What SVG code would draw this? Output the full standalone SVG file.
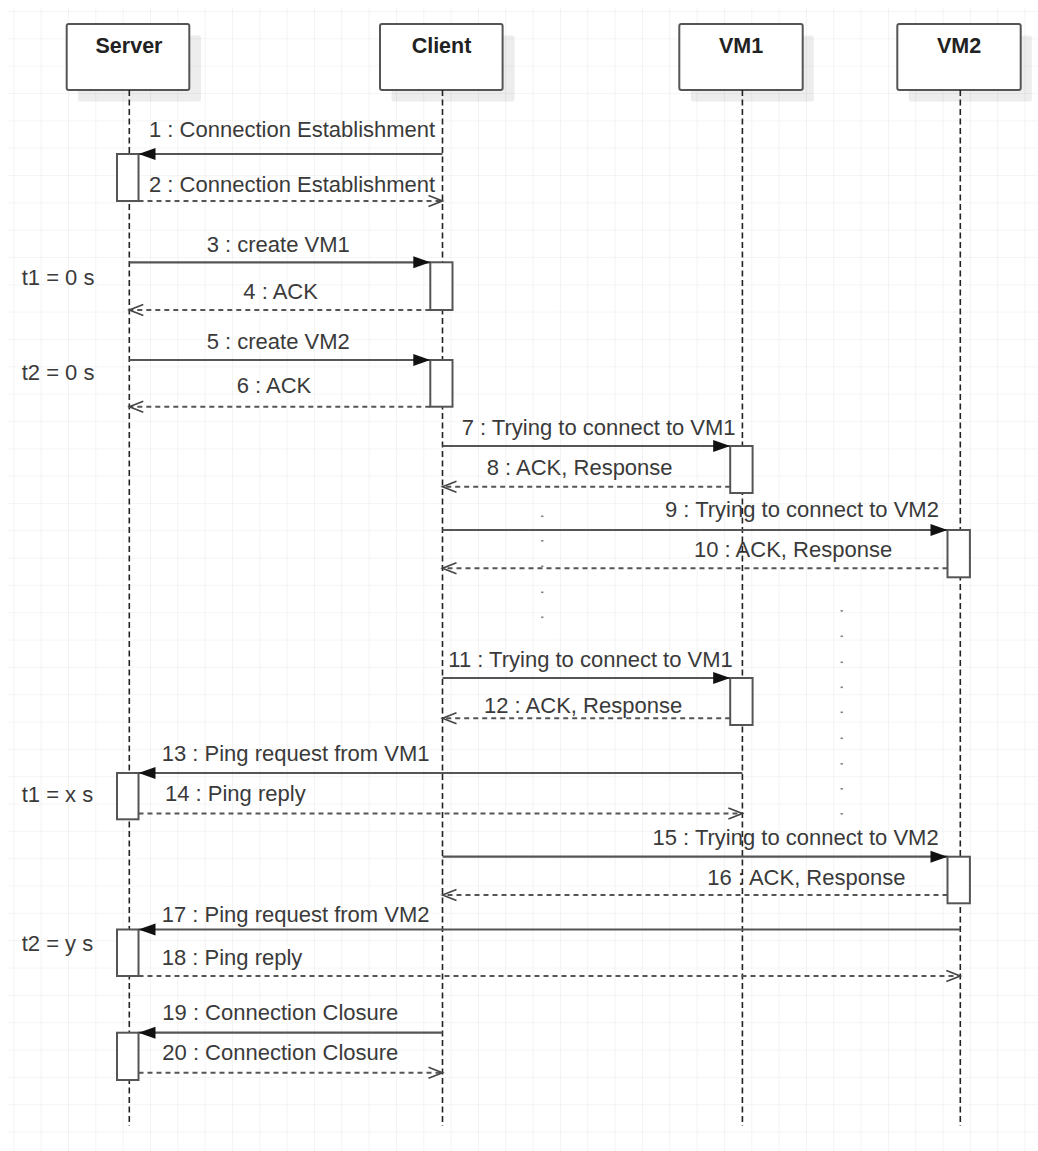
<svg xmlns="http://www.w3.org/2000/svg" width="1038" height="1151" viewBox="0 0 1038 1151">
<style>
.hdr{fill:#fff;stroke:#555;stroke-width:2}
.shd{fill:#000;fill-opacity:0.07}
.htxt{font-family:"Liberation Sans",Arial,sans-serif;font-size:21.5px;font-weight:bold;fill:#222;text-anchor:middle}
.life{stroke:#222;stroke-width:1.6;stroke-dasharray:6 3.5;fill:none}
.act{fill:#fff;stroke:#555;stroke-width:2}
.msg{stroke:#555;stroke-width:2.2;fill:none}
.ret{stroke:#555;stroke-width:2;fill:none;stroke-dasharray:5 4}
.lbl{font-family:"Liberation Sans",Arial,sans-serif;font-size:22px;fill:#3a3a3a}
.dot{fill:#888}
</style>
<defs>
<pattern id="grid" patternUnits="userSpaceOnUse" x="13.33" y="11" width="27.33" height="27.33">
<path d="M27.33 0 L0 0 L0 27.33" fill="none" stroke="#ebebeb" stroke-width="1.2"/>
</pattern>
<marker id="fill" markerUnits="userSpaceOnUse" markerWidth="20" markerHeight="14" refX="17" refY="6" orient="auto" overflow="visible">
<path d="M0,0 L17,6 L0,12 Z" fill="#111"/>
</marker>
<marker id="open" markerUnits="userSpaceOnUse" markerWidth="20" markerHeight="14" refX="14" refY="5.5" orient="auto" overflow="visible">
<path d="M0,0 L14,5.5 L0,11" fill="none" stroke="#444" stroke-width="1.6"/>
</marker>
</defs>
<rect x="0" y="0" width="1038" height="1151" fill="#fff"/>
<rect x="8" y="8" width="1030" height="1143" fill="url(#grid)"/>

<g id="labels">
<text class="lbl" x="149" y="137">1 : Connection Establishment</text>
<text class="lbl" x="149" y="191.7">2 : Connection Establishment</text>
<text class="lbl" x="206.7" y="252.3">3 : create VM1</text>
<text class="lbl" x="243.3" y="299">4 : ACK</text>
<text class="lbl" x="206.7" y="349.3">5 : create VM2</text>
<text class="lbl" x="236.7" y="393.3">6 : ACK</text>
<text class="lbl" x="461.7" y="435">7 : Trying to connect to VM1</text>
<text class="lbl" x="486.7" y="475">8 : ACK, Response</text>
<text class="lbl" x="665" y="517.3">9 : Trying to connect to VM2</text>
<text class="lbl" x="694" y="557.3">10 : ACK, Response</text>
<text class="lbl" x="448.3" y="666.7">11 : Trying to connect to VM1</text>
<text class="lbl" x="484" y="712.7">12 : ACK, Response</text>
<text class="lbl" x="161.7" y="760.7">13 : Ping request from VM1</text>
<text class="lbl" x="165" y="800.7">14 : Ping reply</text>
<text class="lbl" x="652.5" y="845">15 : Trying to connect to VM2</text>
<text class="lbl" x="707.3" y="885">16 : ACK, Response</text>
<text class="lbl" x="161.7" y="921.7">17 : Ping request from VM2</text>
<text class="lbl" x="161.7" y="965">18 : Ping reply</text>
<text class="lbl" x="162.3" y="1020">19 : Connection Closure</text>
<text class="lbl" x="162.3" y="1060">20 : Connection Closure</text>
<text class="lbl" x="21.7" y="285">t1 = 0 s</text>
<text class="lbl" x="21.7" y="379.5">t2 = 0 s</text>
<text class="lbl" x="21.7" y="801.7">t1 = x s</text>
<text class="lbl" x="21.7" y="950.5">t2 = y s</text>
</g>

<g id="dots">
<rect class="dot" x="541" y="515.5" width="2.5" height="1.6"/>
<rect class="dot" x="541" y="540" width="2.5" height="1.6"/>
<rect class="dot" x="541" y="565.5" width="2.5" height="1.6"/>
<rect class="dot" x="541" y="591.5" width="2.5" height="1.6"/>
<rect class="dot" x="541" y="616.5" width="2.5" height="1.6"/>
<rect class="dot" x="840.5" y="610" width="2.5" height="1.6"/>
<rect class="dot" x="840.5" y="635.5" width="2.5" height="1.6"/>
<rect class="dot" x="840.5" y="661.5" width="2.5" height="1.6"/>
<rect class="dot" x="840.5" y="686.5" width="2.5" height="1.6"/>
<rect class="dot" x="840.5" y="711.5" width="2.5" height="1.6"/>
<rect class="dot" x="840.5" y="737.5" width="2.5" height="1.6"/>
<rect class="dot" x="840.5" y="763" width="2.5" height="1.6"/>
<rect class="dot" x="840.5" y="788" width="2.5" height="1.6"/>
<rect class="dot" x="840.5" y="813" width="2.5" height="1.6"/>
</g>

<g id="server">
<rect class="shd" x="78" y="35.5" width="123" height="66" rx="2"/>
<rect class="hdr" x="66.7" y="24" width="122.6" height="66" rx="2"/>
<text class="htxt" x="129" y="53.3">Server</text>
<line class="life" x1="129.3" y1="90" x2="129.3" y2="1126"/>
</g>
<g id="client">
<rect class="shd" x="391.5" y="35.5" width="123" height="66" rx="2"/>
<rect class="hdr" x="380" y="24" width="122.6" height="66" rx="2"/>
<text class="htxt" x="441.5" y="53.3">Client</text>
<line class="life" x1="442.5" y1="90" x2="442.5" y2="1126"/>
</g>
<g id="vm1">
<rect class="shd" x="690.8" y="35.5" width="123" height="66" rx="2"/>
<rect class="hdr" x="679.3" y="24" width="123.4" height="66" rx="2"/>
<text class="htxt" x="741" y="53.3">VM1</text>
<line class="life" x1="742.4" y1="90" x2="742.4" y2="1126"/>
</g>
<g id="vm2">
<rect class="shd" x="908.8" y="35.5" width="123" height="66" rx="2"/>
<rect class="hdr" x="897.3" y="24" width="123.4" height="66" rx="2"/>
<text class="htxt" x="959" y="53.3">VM2</text>
<line class="life" x1="960.3" y1="90" x2="960.3" y2="1126"/>
</g>

<g id="activations">
<rect class="act" x="117" y="154" width="21.5" height="47"/>
<rect class="act" x="430.3" y="262.3" width="22.2" height="47.7"/>
<rect class="act" x="430.3" y="360" width="22.2" height="46.7"/>
<rect class="act" x="730.2" y="446" width="22.4" height="47"/>
<rect class="act" x="947.5" y="530" width="22.4" height="47.3"/>
<rect class="act" x="730.2" y="678" width="22.4" height="47"/>
<rect class="act" x="117" y="773" width="21.5" height="46.3"/>
<rect class="act" x="947.5" y="856.7" width="22.4" height="46.6"/>
<rect class="act" x="117" y="929.5" width="21.5" height="46.5"/>
<rect class="act" x="117" y="1032.7" width="21.5" height="47.3"/>
</g>

<g id="connectors">
<line class="msg" x1="442.5" y1="154" x2="138.5" y2="154" marker-end="url(#fill)"/>
<line class="ret" x1="138.5" y1="201" x2="442.5" y2="201" marker-end="url(#open)"/>
<line class="msg" x1="129.3" y1="262.3" x2="430.3" y2="262.3" marker-end="url(#fill)"/>
<line class="ret" x1="430.3" y1="310" x2="129.3" y2="310" marker-end="url(#open)"/>
<line class="msg" x1="129.3" y1="360" x2="430.3" y2="360" marker-end="url(#fill)"/>
<line class="ret" x1="430.3" y1="406.7" x2="129.3" y2="406.7" marker-end="url(#open)"/>
<line class="msg" x1="442.5" y1="446" x2="730.2" y2="446" marker-end="url(#fill)"/>
<line class="ret" x1="730.2" y1="486.7" x2="442.5" y2="486.7" marker-end="url(#open)"/>
<line class="msg" x1="442.5" y1="530" x2="947.5" y2="530" marker-end="url(#fill)"/>
<line class="ret" x1="947.5" y1="568.3" x2="442.5" y2="568.3" marker-end="url(#open)"/>
<line class="msg" x1="442.5" y1="678" x2="730.2" y2="678" marker-end="url(#fill)"/>
<line class="ret" x1="730.2" y1="718.3" x2="442.5" y2="718.3" marker-end="url(#open)"/>
<line class="msg" x1="742.4" y1="773" x2="138.5" y2="773" marker-end="url(#fill)"/>
<line class="ret" x1="138.5" y1="813.5" x2="742.4" y2="813.5" marker-end="url(#open)"/>
<line class="msg" x1="442.5" y1="856.7" x2="947.5" y2="856.7" marker-end="url(#fill)"/>
<line class="ret" x1="947.5" y1="895" x2="442.5" y2="895" marker-end="url(#open)"/>
<line class="msg" x1="960.3" y1="929.5" x2="138.5" y2="929.5" marker-end="url(#fill)"/>
<line class="ret" x1="138.5" y1="976" x2="960.3" y2="976" marker-end="url(#open)"/>
<line class="msg" x1="442.5" y1="1032.7" x2="138.5" y2="1032.7" marker-end="url(#fill)"/>
<line class="ret" x1="138.5" y1="1072.7" x2="442.5" y2="1072.7" marker-end="url(#open)"/>
</g>
</svg>
